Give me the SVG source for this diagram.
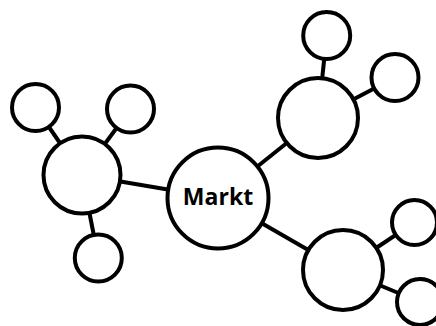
<svg xmlns="http://www.w3.org/2000/svg" width="436" height="326" viewBox="0 0 436 326">
<style>
.c{fill:#fff;stroke:#000;stroke-width:4}
.l{stroke:#000;stroke-width:4;fill:none}
.t{font-family:"Open Sans","Noto Sans",sans-serif;font-weight:bold;font-size:23px;fill:#000;text-anchor:middle}
</style>
<rect width="436" height="326" fill="#fff"/>
<g id="connectors" class="l">
<line x1="218" y1="198" x2="82" y2="175"/>
<line x1="218" y1="198" x2="318" y2="118"/>
<line x1="218" y1="198" x2="343" y2="270"/>
<line x1="82" y1="175" x2="35.5" y2="107.5"/>
<line x1="82" y1="175" x2="130.5" y2="109"/>
<line x1="82" y1="175" x2="98.3" y2="258"/>
<line x1="318" y1="118" x2="326.7" y2="35.5"/>
<line x1="318" y1="118" x2="395" y2="77.5"/>
<line x1="343" y1="270" x2="414.5" y2="222.5"/>
<line x1="343" y1="270" x2="420" y2="302"/>
</g>
<g id="markt"><circle class="c" cx="218" cy="198" r="50.5"/><text class="t" x="218" y="205">Markt</text></g>
<g id="left"><circle class="c" cx="82" cy="175" r="38.5"/></g>
<g id="topright"><circle class="c" cx="318" cy="118" r="40"/></g>
<g id="bottomright"><circle class="c" cx="343" cy="270" r="40"/></g>
<g id="left-a"><circle class="c" cx="35.5" cy="107.5" r="23.5"/></g>
<g id="left-b"><circle class="c" cx="130.5" cy="109" r="23.5"/></g>
<g id="left-c"><circle class="c" cx="98.3" cy="258" r="23.5"/></g>
<g id="topright-a"><circle class="c" cx="326.7" cy="35.5" r="23.5"/></g>
<g id="topright-b"><circle class="c" cx="395" cy="77.5" r="23.5"/></g>
<g id="bottomright-a"><circle class="c" cx="414.5" cy="222.5" r="22.5"/></g>
<g id="bottomright-b"><circle class="c" cx="420" cy="302" r="23"/></g>
</svg>
